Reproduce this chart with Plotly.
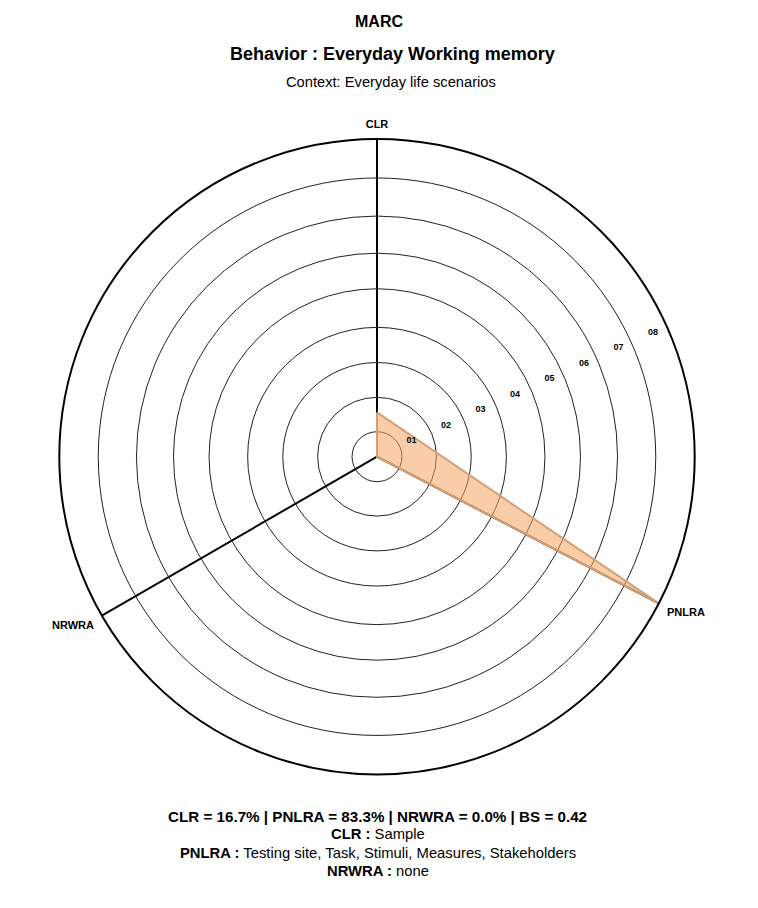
import plotly.graph_objects as go

# ---- data ----
axis_names = ["CLR", "PNLRA", "NRWRA"]
axis_angles = [90, 332.5, 210]          # degrees (counter-clockwise from east)
values = [1.17, 8.40, 0.0]              # radial value of each vertex
ring_values = [0.66, 1.57, 2.49, 3.42, 4.44, 5.38, 6.36, 7.37]
radial_max = 8.40
ring_label_values = [1, 2, 3, 4, 5, 6, 7, 8]
ring_labels = ["01", "02", "03", "04", "05", "06", "07", "08"]

title_main = "MARC"
title_behavior = "Behavior : Everyday Working memory"
title_context = "Context: Everyday life scenarios"
summary_line = "CLR = 16.7% | PNLRA = 83.3% | NRWRA = 0.0% | BS = 0.42"
detail_lines = [("CLR", "Sample"),
                ("PNLRA", "Testing site, Task, Stimuli, Measures, Stakeholders"),
                ("NRWRA", "none")]

FONT = "Liberation Sans, Arial, Helvetica, sans-serif"
W, H = 758, 908
LABEL_ANGLE = 24.2

fig = go.Figure()

fig.add_trace(go.Scatterpolar(
    r=values + [values[0]],
    theta=axis_angles + [axis_angles[0]],
    mode="lines",
    fill="toself",
    fillcolor="rgba(244,164,96,0.55)",
    line=dict(color="rgb(214,160,118)", width=2),
    hoverinfo="skip",
    showlegend=False,
))

fig.add_trace(go.Scatterpolar(
    r=ring_label_values,
    theta=[LABEL_ANGLE] * len(ring_label_values),
    mode="text",
    text=[f"<b>{t}</b>" for t in ring_labels],
    textfont=dict(family=FONT, size=9, color="black"),
    hoverinfo="skip",
    showlegend=False,
))

cx, cy, R = 377.0, 456.7, 317.7
fig.update_layout(
    width=W, height=H,
    margin=dict(l=0, r=0, t=0, b=0),
    paper_bgcolor="white",
    plot_bgcolor="white",
    font=dict(family=FONT, color="black"),
    showlegend=False,
    polar=dict(
        domain=dict(x=[(cx - R) / W, (cx + R) / W],
                    y=[(H - cy - R) / H, (H - cy + R) / H]),
        bgcolor="white",
        radialaxis=dict(
            range=[0, radial_max],
            tickmode="array",
            tickvals=ring_values,
            showticklabels=False,
            ticks="",
            showline=False,
            gridcolor="#222222",
            gridwidth=1,
        ),
        angularaxis=dict(
            type="linear",
            thetaunit="degrees",
            rotation=0,
            direction="counterclockwise",
            tickmode="array",
            tickvals=axis_angles,
            ticktext=[f"<b>{n}</b>" for n in axis_names],
            tickfont=dict(family=FONT, size=11, color="black"),
            ticks="outside",
            ticklen=6,
            tickcolor="rgba(0,0,0,0)",
            showline=True,
            linecolor="black",
            linewidth=2,
            showgrid=True,
            gridcolor="black",
            gridwidth=1.5,
        ),
    ),
)

def ann(text, xpx, ypx, size):
    fig.add_annotation(
        text=text, x=xpx / W, y=1 - ypx / H, xref="paper", yref="paper",
        xanchor="center", yanchor="middle", showarrow=False,
        font=dict(family=FONT, size=size, color="black"),
    )

ann(f"<b>{title_main}</b>", 379, 21, 16)
ann(f"<b>{title_behavior}</b>", 392, 54, 18)
ann(title_context, 391, 82, 14.7)
ann(f"<b>{summary_line}</b>", 377, 816, 15.2)
for i, (k, v) in enumerate(detail_lines):
    ann(f"<b>{k} :</b> {v}", 377.5, 834.3 + i * 18.4, 14.8)

fig.write_html("out.html")
